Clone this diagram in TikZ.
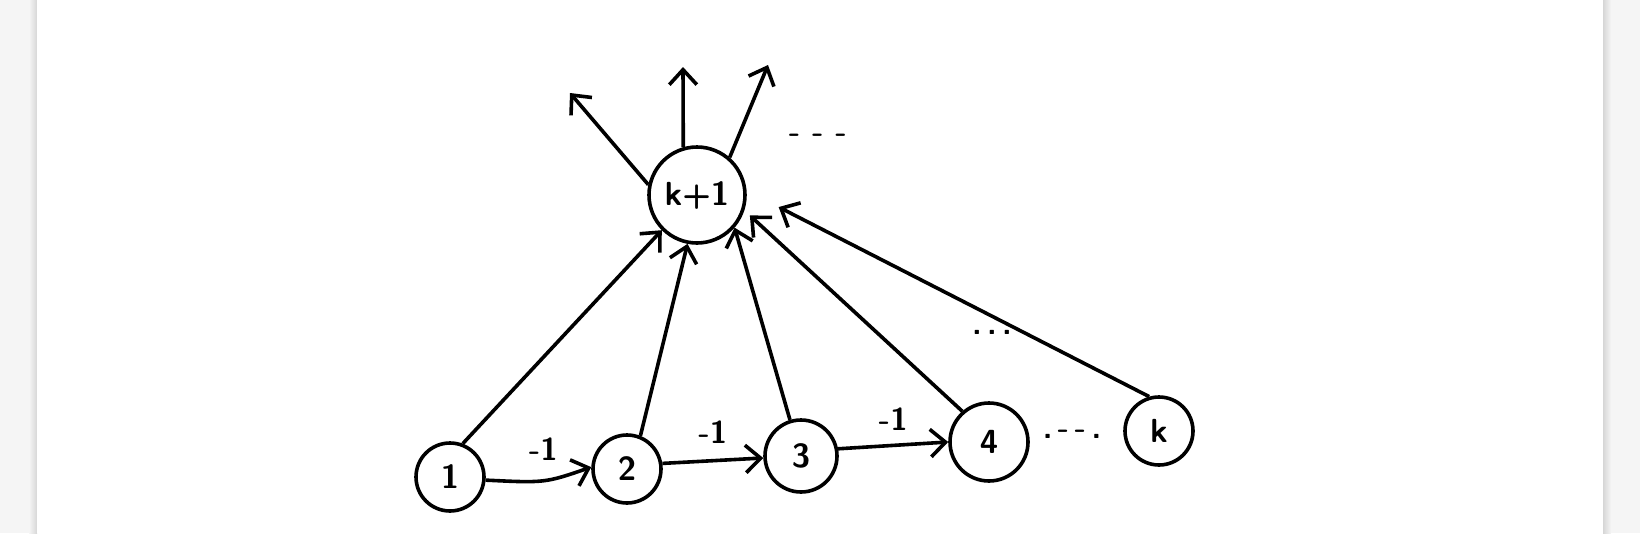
\documentclass[tikz,border=0pt]{standalone}
\usetikzlibrary{arrows.meta}
\begin{document}
\begin{tikzpicture}[x=0.2mm,y=-0.2mm,line width=0.72mm,
    >={Straight Barb[length=3mm,width=5.5mm]},
    vtx/.style={circle,draw,inner sep=0pt,minimum size=#1,font=\fontsize{19}{21}\sffamily\bfseries},
    lbl/.style={font=\fontsize{18}{20}\sffamily\bfseries}]
    \useasboundingbox (0,0) rectangle (1640,533);
    % page and its shadow
    \fill[black!4] (0,0) rectangle (1640,533);
    \shade[left color=black!4,right color=black!16] (29,0) rectangle (37,533);
    \shade[left color=black!16,right color=black!4] (1603,0) rectangle (1611,533);
    \fill[white] (37,0) rectangle (1603,533);
    % vertices
    \node[vtx=19.2mm] (top) at (697,195) {k+1};
    \node[vtx=13.6mm] (n1) at (450,477) {1};
    \node[vtx=13.6mm] (n2) at (627,469) {2};
    \node[vtx=14.4mm] (n3) at (801,456) {3};
    \node[vtx=15.6mm] (n4) at (989,442) {4};
    \node[vtx=13.6mm] (nk) at (1159,431) {k};
    % outgoing edges
    \coordinate (o1) at (570,93);
    \coordinate (o2) at (683,67);
    \coordinate (o3) at (768,65);
    \draw[->] (top.168) -- (o1);
    \draw[->] (top.106) -- (o2);
    \draw[->] (top.49) -- (o3);
    \node[lbl] (d1) at (818,138) {- - -};
    % incoming edges
    \draw[->] (n1.69) -- (top.225);
    \draw[->] (n2.68) -- (top.259);
    \draw[->] (n3.107) -- (top.319);
    \draw[->,shorten >=1.5mm] (n4.131) -- (top.342);
    \draw[->,shorten >=7.2mm] (nk.106) -- (top.5);
    \node[lbl] (d2) at (992,332) {.\,.\,.};
    % chain
    \draw[->] (n1.-5) .. controls (545,483) .. node[lbl,above=2.5mm] {-1} (n2.177);
    \draw[->] (n2.9) -- node[lbl,above=2mm] {-1} (n3.183);
    \draw[->] (n3.11) -- node[lbl,above=1.5mm] {-1} (n4.180);
    \node[lbl] (d3) at (1072,434) {.\,-\,-\,.};
\end{tikzpicture}
\end{document}
